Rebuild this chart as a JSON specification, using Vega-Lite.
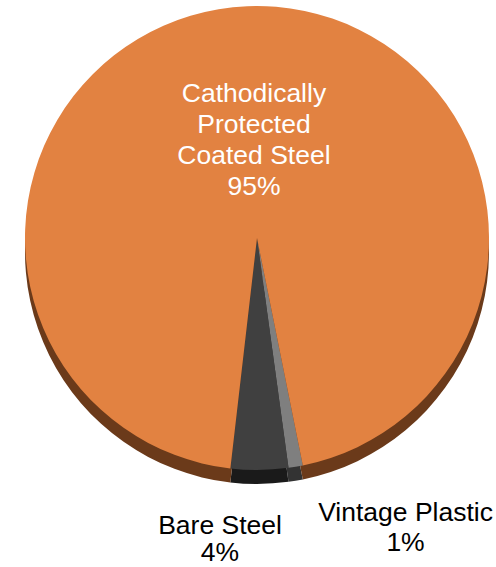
{
  "$schema": "https://vega.github.io/schema/vega-lite/v6.json",
  "width": 478,
  "height": 476,
  "autosize": "none",
  "padding": {"left": 18, "right": 0, "top": 0, "bottom": 91},
  "background": "white",
  "view": {"stroke": null},
  "data": {
    "values": [
      {"category": "Vintage Plastic", "value": 1, "label": "Vintage Plastic\n1%", "order": 1},
      {"category": "Bare Steel", "value": 4, "label": "Bare Steel\n4%", "order": 2},
      {"category": "Cathodically Protected Coated Steel", "value": 95, "label": "Cathodically\nProtected\nCoated Steel\n95%", "order": 3}
    ]
  },
  "encoding": {
    "theta": {"field": "value", "type": "quantitative", "stack": true, "scale": {"range": [2.9426, 9.2258]}},
    "order": {"field": "order", "type": "quantitative"}
  },
  "layer": [
    {
      "mark": {"type": "arc", "radius": 232, "yOffset": 14},
      "encoding": {
        "color": {"field": "category", "type": "nominal", "legend": null,
          "scale": {"domain": ["Vintage Plastic", "Bare Steel", "Cathodically Protected Coated Steel"], "range": ["#333333", "#1a1a1a", "#6b3a1a"]}}
      }
    },
    {
      "mark": {"type": "arc", "radius": 232},
      "encoding": {
        "fill": {"field": "category", "type": "nominal", "legend": null,
          "scale": {"domain": ["Vintage Plastic", "Bare Steel", "Cathodically Protected Coated Steel"], "range": ["#7f7f7f", "#404040", "#e28241"]}}
      }
    },
    {
      "mark": {"type": "text", "radius": 144, "dx": 3, "font": "Liberation Sans", "fontSize": 26.5, "lineHeight": 31, "lineBreak": "\n", "align": "center", "baseline": "middle", "color": "white"},
      "encoding": {
        "text": {"condition": {"test": "datum.category === 'Cathodically Protected Coated Steel'", "field": "label"}, "value": ""}
      }
    },
    {
      "mark": {"type": "text", "radius": 288, "dx": -40, "font": "Liberation Sans", "fontSize": 26.5, "lineHeight": 27, "lineBreak": "\n", "align": "center", "baseline": "middle", "color": "black"},
      "encoding": {
        "text": {"condition": {"test": "datum.category === 'Bare Steel'", "field": "label"}, "value": ""}
      }
    },
    {
      "mark": {"type": "text", "radius": 279, "dx": 102, "font": "Liberation Sans", "fontSize": 26.5, "lineHeight": 30, "lineBreak": "\n", "align": "center", "baseline": "middle", "color": "black"},
      "encoding": {
        "text": {"condition": {"test": "datum.category === 'Vintage Plastic'", "field": "label"}, "value": ""}
      }
    }
  ],
  "resolve": {"scale": {"color": "independent", "fill": "independent"}}
}
